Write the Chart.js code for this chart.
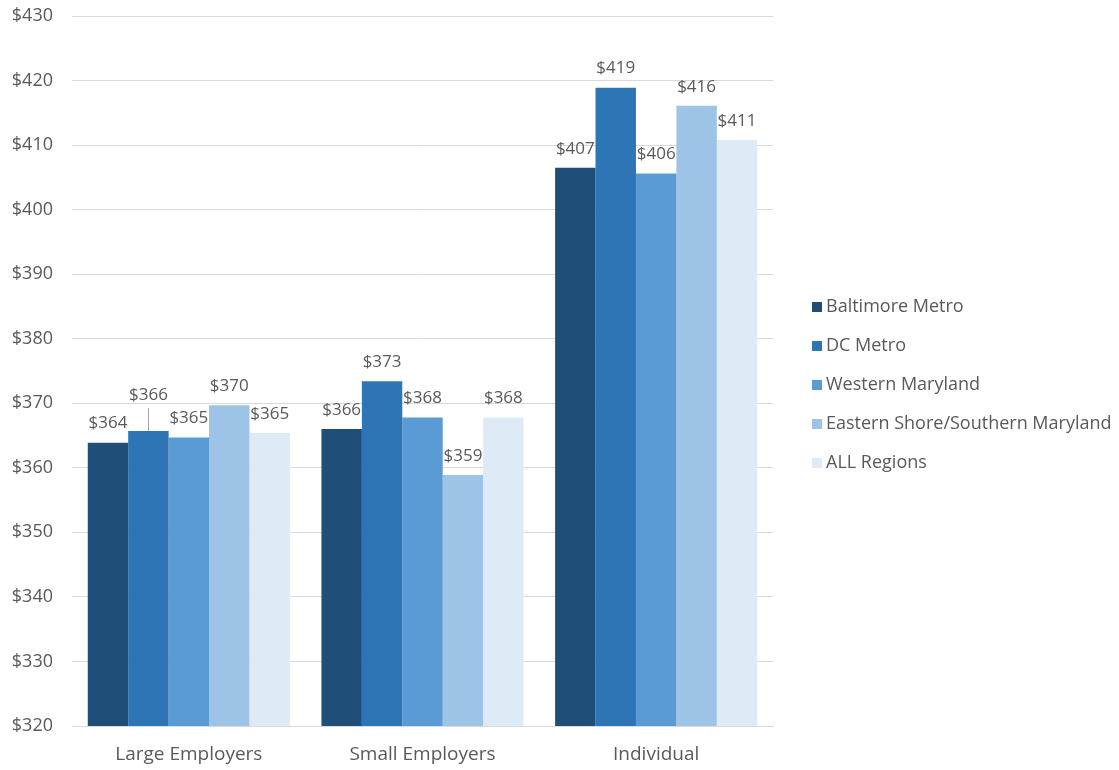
<!DOCTYPE html>
<html>
<head>
<meta charset="utf-8">
<script src="https://cdn.jsdelivr.net/npm/chart.js@4"></script>
<style>
  html, body { margin: 0; padding: 0; background: #fff; }
  #wrap { width: 1119px; height: 770px; position: relative; }
</style>
</head>
<body>
<div id="wrap"><canvas id="myChart"></canvas></div>
<script>
// categories and regions
const categories = ['Large Employers', 'Small Employers', 'Individual']
const regions = ['Baltimore Metro', 'DC Metro', 'Western Maryland', 'Eastern Shore/Southern Maryland', 'ALL Regions']
const colors = ['#1F4E79', '#2E75B6', '#5B9BD5', '#9DC3E6', '#DEEBF7']

// monthly premium per region, one array per region (large, small, individual)
const baltimoreMetro = [363.9, 366.0, 406.5]
const dcMetro = [365.7, 373.4, 418.9]
const westernMaryland = [364.7, 367.8, 405.6]
const easternShore = [369.7, 358.9, 416.1]
const allRegions = [365.4, 367.8, 410.8]

const yTicks = [320, 330, 340, 350, 360, 370, 380, 390, 400, 410, 420, 430]

const font = '"Open Sans", sans-serif'
const grey = '#595959'

const seriesValues = [baltimoreMetro, dcMetro, westernMaryland, easternShore, allRegions]

// value labels above each bar; a few labels sit higher with a leader line
const raised = { '1-0': 17 }
const valueLabels = {
    id: 'valueLabels',
    afterDatasetsDraw(chart) {
        const c = chart.ctx
        c.save()
        c.font = '17px ' + font
        c.fillStyle = grey
        c.textAlign = 'center'
        c.textBaseline = 'middle'
        chart.data.datasets.forEach((ds, di) => {
            chart.getDatasetMeta(di).data.forEach((bar, i) => {
                const extra = raised[di + '-' + i] || 0
                const y = bar.y - 19 - extra
                if( extra ) {
                    c.strokeStyle = '#a6a6a6'
                    c.lineWidth = 1
                    c.beginPath()
                    c.moveTo(Math.round(bar.x) + 0.5, bar.y)
                    c.lineTo(Math.round(bar.x) + 0.5, y + 13)
                    c.stroke()
                }
                c.fillText('$' + Math.round(ds.data[i]), bar.x, y)
            })
        })
        c.restore()
    }
}

// legend on the right, drawn by hand
const sideLegend = {
    id: 'sideLegend',
    afterDraw(chart) {
        const c = chart.ctx
        c.save()
        c.font = '18px ' + font
        c.textBaseline = 'middle'
        c.textAlign = 'left'
        regions.forEach((name, i) => {
            const y = 307 + i * 39
            c.fillStyle = colors[i]
            c.fillRect(812, y - 5, 10, 10)
            c.fillStyle = grey
            c.fillText(name, 826, y)
        })
        c.restore()
    }
}

const ctx = document.getElementById('myChart').getContext('2d')

let data = {
    labels: categories,
    datasets: regions.map((name, i) => ({
        label: name,
        data: seriesValues[i],
        backgroundColor: colors[i],
        borderWidth: 0,
        categoryPercentage: 0.865,
        barPercentage: 1
    }))
}

let options = {
    responsive: true,
    maintainAspectRatio: false,
    animation: false,
    layout: {
        autoPadding: false,
        padding: { top: 16, right: 346, left: 0, bottom: 0 }
    },
    plugins: {
        legend: { display: false },
        tooltip: { enabled: false }
    },
    scales: {
        x: {
            grid: { display: false },
            border: { color: '#D9D9D9' },
            ticks: { color: grey, font: { family: font, size: 19 }, padding: 9 },
            afterFit(scale) {
                scale.height = 44
                scale.paddingLeft = 0
                scale.paddingRight = 0
            }
        },
        y: {
            min: 320,
            max: 430,
            afterBuildTicks(scale) { scale.ticks = yTicks.map(v => ({ value: v })) },
            grid: { color: '#D9D9D9', drawTicks: false },
            border: { display: false },
            ticks: {
                color: grey,
                font: { family: font, size: 18 },
                padding: 19,
                callback: v => '$' + v
            },
            afterFit(scale) {
                scale.width = 72
                scale.paddingTop = 0
                scale.paddingBottom = 0
            }
        }
    }
}

let myChart = new Chart(ctx, {
    type: 'bar',
    data: data,
    options: options,
    plugins: [valueLabels, sideLegend]
})
</script>
</body>
</html>
